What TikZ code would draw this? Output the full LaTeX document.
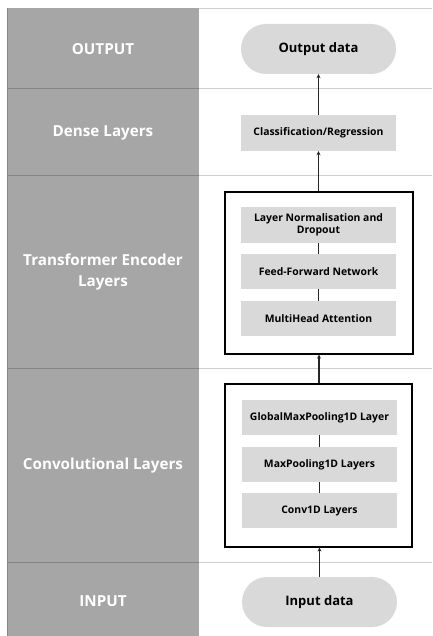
\documentclass[tikz,border=0pt]{standalone}
\usepackage{fontspec}
\setmainfont{Open Sans}
\usetikzlibrary{arrows.meta,shapes.misc}
\definecolor{colgray}{HTML}{A6A6A6}
\definecolor{boxgray}{HTML}{D9D9D9}
\definecolor{sepdark}{HTML}{858585}
\definecolor{seplight}{HTML}{CFCFCF}
\tikzset{
  lab/.style={text=white,font=\bfseries\fontsize{15.2}{21}\selectfont,align=center},
  inbox/.style={fill=boxgray,draw=none,minimum width=155pt,minimum height=35pt,inner sep=0pt,align=center,font=\bfseries\fontsize{10.4}{12}\selectfont},
  pill/.style={rounded rectangle,fill=boxgray,draw=none,minimum width=155pt,minimum height=50pt,inner sep=0pt,font=\bfseries\fontsize{13}{15}\selectfont},
  frame/.style={draw=black,line width=1.1pt,fill=none},
  conn/.style={draw=black!85,line width=1.3pt},
  arr/.style={conn,-{Stealth[length=4pt,width=4pt]}},
}
\begin{document}
\begin{tikzpicture}[x=1pt,y=-1pt]
\useasboundingbox (0,0) rectangle (432,636);
\fill[white] (0,0) rectangle (432,636);
% left column
\fill[colgray] (7,8) rectangle (199,636);
\draw[sepdark,line width=0.8pt] (7,8) -- (7,636);
% separators
\foreach \yy in {88,175,368,562}{
  \draw[sepdark,line width=0.8pt] (7,\yy) -- (199,\yy);
  \draw[seplight,line width=0.8pt] (199,\yy) -- (432,\yy);
}
\draw[seplight,line width=0.8pt] (199,8) -- (432,8);
% labels
\node[lab] (lout) at (103,49) {OUTPUT};
\node[lab] (ldense) at (103,133) {Dense Layers};
\node[lab] (ltrans) at (103,272) {Transformer Encoder\\Layers};
\node[lab] (lconv) at (103,466) {Convolutional Layers};
\node[lab] (lin) at (103,601) {INPUT};
% frames
\node[frame,minimum width=188pt,minimum height=162pt,inner sep=0pt] (tf) at (319,273) {};
\node[frame,minimum width=187pt,minimum height=163pt,inner sep=0pt] (cf) at (318.5,465.5) {};
% nodes
\node[pill] (out) at (318.5,49) {Output data};
\node[inbox,minimum height=36pt] (cls) at (318.5,133) {Classification/Regression};
\node[inbox,minimum height=36pt] (ln) at (318.5,225) {Layer Normalisation and\\Dropout};
\node[inbox] (ffn) at (318.5,271.5) {Feed-Forward Network};
\node[inbox] (mha) at (318.5,318.5) {MultiHead Attention};
\node[inbox] (gmp) at (319.5,417.5) {GlobalMaxPooling1D Layer};
\node[inbox] (mp) at (319.5,464.5) {MaxPooling1D Layers};
\node[inbox] (c1) at (319.5,510.5) {Conv1D Layers};
\node[pill] (in) at (319.5,602) {Input data};
% connectors
\draw[arr] (cls.north) -- (out.south);
\draw[arr] (tf.north -| cls.south) -- (cls.south);
\draw[conn] (ln) -- (ffn);
\draw[conn] (ffn) -- (mha);
\draw[arr] (cf.north -| tf.south) -- (tf.south);
\draw[conn] (gmp) -- (mp);
\draw[conn] (mp) -- (c1);
\draw[arr] (in.north) -- (in.north |- cf.south);
\end{tikzpicture}
\end{document}
